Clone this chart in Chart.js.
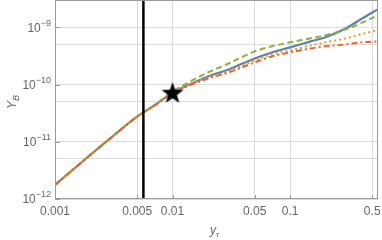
<!DOCTYPE html>
<html><head><meta charset="utf-8">
<script src="https://cdn.jsdelivr.net/npm/chart.js@4"></script>
<style>html,body{margin:0;padding:0;background:#fff}#c{display:block}</style>
</head><body>
<div style="width:382px;height:240px"><canvas id="c" width="382" height="240"></canvas></div>
<script>
// ---- data ----
const xs = [0.001,0.002,0.003,0.005,0.007,0.01,0.02,0.03,0.05,0.07,0.1,0.15,0.2,0.3,0.4,0.56];
const blueY   = [1.76e-12,5.9e-12,1.18e-11,2.75e-11,4.3e-11,7.2e-11,1.38e-10,1.83e-10,2.86e-10,3.64e-10,4.46e-10,5.68e-10,6.68e-10,9.6e-10,1.38e-9,2.07e-9];
const orangeY = [1.76e-12,5.9e-12,1.18e-11,2.75e-11,4.3e-11,7.1e-11,1.33e-10,1.69e-10,2.64e-10,3.36e-10,3.94e-10,4.83e-10,5.46e-10,6.42e-10,7.53e-10,9.0e-10];
const greenY  = [1.76e-12,5.9e-12,1.18e-11,2.77e-11,4.35e-11,7.5e-11,1.625e-10,2.33e-10,3.79e-10,4.65e-10,5.46e-10,6.42e-10,7.25e-10,9.23e-10,1.175e-9,1.63e-9];
const redY    = [1.76e-12,5.9e-12,1.18e-11,2.75e-11,4.3e-11,7.0e-11,1.27e-10,1.625e-10,2.43e-10,3.1e-10,3.64e-10,4.28e-10,4.65e-10,5.04e-10,5.46e-10,5.68e-10];
const vLineX = 0.00565;
const starPt = {x:0.01, y:7.2e-11};
const xTicks = [0.001,0.005,0.01,0.05,0.1,0.5];
const xTickLabels = ['0.001','0.005','0.01','0.05','0.1','0.5'];
const yGrid = [1e-12,5e-12,1e-11,5e-11,1e-10,5e-10,1e-9];
const yLabelVals = [1e-12,1e-11,1e-10,1e-9];
const yLabelExps = ['\u221212','\u221211','\u221210','\u22129'];
const xRange = [0.001, 0.56];
const yRange = [1e-12, 3e-9];

const pts = ys => xs.map((x,i)=>({x:x,y:ys[i]}));

// filled star point
const star = document.createElement('canvas');
star.width = 24; star.height = 24;
(function(){
  const g = star.getContext('2d');
  g.fillStyle = '#000';
  g.beginPath();
  for (let i=0;i<10;i++){
    const r = i%2===0 ? 11.5 : 4.6;
    const a = -Math.PI/2 + i*Math.PI/5;
    const px = 12 + r*Math.cos(a), py = 12.8 + r*Math.sin(a);
    if(i===0) g.moveTo(px,py); else g.lineTo(px,py);
  }
  g.closePath(); g.fill();
})();

const gray = '#666';
const font = '"Liberation Sans", Arial, sans-serif';

const deco = {
  id:'deco',
  afterDraw(chart){
    const c = chart.ctx, a = chart.chartArea;
    const xsc = chart.scales.x, ysc = chart.scales.y;
    c.save();
    c.strokeStyle = '#9a9a9a'; c.lineWidth = 1;
    c.strokeRect(Math.round(a.left)+0.5, Math.round(a.top)+0.5, Math.round(a.right-a.left)-1, Math.round(a.bottom-a.top)-1);
    // frame tick marks
    c.beginPath();
    yLabelVals.forEach(v=>{
      const py = Math.round(ysc.getPixelForValue(v))+0.5;
      c.moveTo(a.left, py); c.lineTo(a.left+5, py);
    });
    xTicks.forEach(v=>{
      const px = Math.round(xsc.getPixelForValue(v))+0.5;
      c.moveTo(px, a.bottom); c.lineTo(px, a.bottom-4);
    });
    c.stroke();
    // y tick labels with superscripts
    c.fillStyle = gray; c.textBaseline = 'middle';
    yLabelVals.forEach((v,i)=>{
      const py = ysc.getPixelForValue(v);
      c.font = '9px ' + font;
      const ew = c.measureText(yLabelExps[i]).width;
      c.font = '12px ' + font;
      const bw = c.measureText('10').width;
      const xr = a.left - 4;
      c.textAlign = 'left';
      c.fillText('10', xr - ew - bw, py + 1);
      c.font = '9px ' + font;
      c.fillText(yLabelExps[i], xr - ew, py - 4);
    });
    // y axis title
    c.save();
    c.translate(13, 101);
    c.rotate(-Math.PI/2);
    c.textAlign = 'left'; c.textBaseline = 'middle';
    c.font = 'italic 12px ' + font;
    const yw = c.measureText('Y').width;
    c.fillText('Y', -8, 0);
    c.font = 'italic 9px ' + font;
    c.fillText('B', -8 + yw, 3);
    c.restore();
    // x axis title
    c.textAlign = 'left'; c.textBaseline = 'middle';
    c.font = 'italic 12px ' + font;
    c.fillText('y', 210, 231);
    const w2 = c.measureText('y').width;
    c.font = 'italic 8px ' + font;
    c.fillText('\u03c4', 210 + w2, 235);
    c.restore();
  }
};

new Chart(document.getElementById('c'), {
  type:'scatter',
  data:{ datasets:[
    {data:pts(blueY), borderColor:'#5E81B5', borderWidth:2.2, showLine:true, pointRadius:0, order:4, cubicInterpolationMode:'monotone'},
    {data:pts(orangeY), borderColor:'#E19C24', borderWidth:2, borderDash:[2,3], showLine:true, pointRadius:0, order:3, cubicInterpolationMode:'monotone'},
    {data:pts(greenY), borderColor:'#8FB032', borderWidth:2, borderDash:[6,3.5], showLine:true, pointRadius:0, order:2, cubicInterpolationMode:'monotone'},
    {data:pts(redY), borderColor:'#EB6235', borderWidth:2, borderDash:[6,3,2,3], showLine:true, pointRadius:0, order:1, cubicInterpolationMode:'monotone'},
    {data:[{x:vLineX,y:yRange[0]},{x:vLineX,y:yRange[1]}], borderColor:'#000', borderWidth:2.5, showLine:true, pointRadius:0, order:0},
    {data:[starPt], pointStyle:star, pointRadius:12, showLine:false, order:-1, clip:false}
  ]},
  options:{
    responsive:false, animation:false, devicePixelRatio:1,
    layout:{autoPadding:false, padding:{top:0,right:4,left:0,bottom:0}},
    plugins:{legend:{display:false}, tooltip:{enabled:false}},
    scales:{
      x:{type:'logarithmic', min:xRange[0], max:xRange[1],
        afterBuildTicks:s=>{s.ticks = xTicks.map(v=>({value:v}));},
        afterFit:s=>{s.height = 41; s.paddingLeft = 0; s.paddingRight = 0; s.paddingTop = 0; s.paddingBottom = 0;},
        ticks:{callback:(v,i)=>xTickLabels[i], color:gray, font:{family:font,size:12}, maxRotation:0, autoSkip:false, padding:5},
        grid:{color:'#dcdcdc', drawTicks:false, lineWidth:1},
        border:{display:false}},
      y:{type:'logarithmic', min:yRange[0], max:yRange[1],
        afterBuildTicks:s=>{s.ticks = yGrid.map(v=>({value:v}));},
        afterFit:s=>{s.width = 55; s.paddingLeft = 0; s.paddingRight = 0; s.paddingTop = 0; s.paddingBottom = 0;},
        ticks:{display:false},
        grid:{color:'#dcdcdc', drawTicks:false, lineWidth:1},
        border:{display:false}}
    }
  },
  plugins:[deco]
});
</script>
</body></html>
